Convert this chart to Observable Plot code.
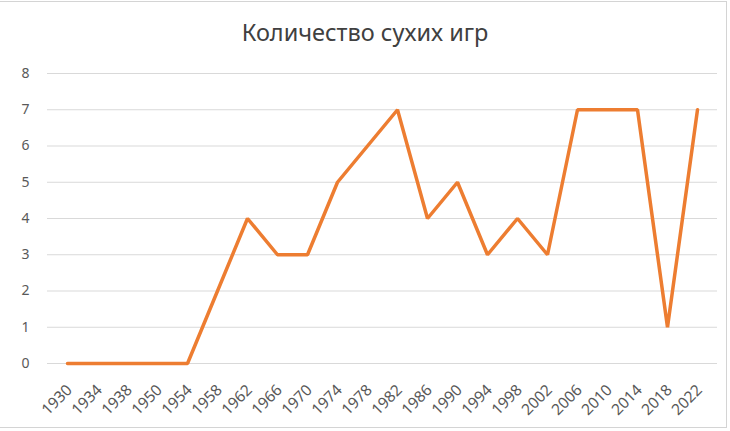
<!DOCTYPE html>
<html>
<head>
<meta charset="utf-8">
<script src="https://cdn.jsdelivr.net/npm/d3@7"></script>
<script src="https://cdn.jsdelivr.net/npm/@observablehq/plot@0.6"></script>
<style>
  html, body { margin: 0; padding: 0; background: #fff; }
  #wrap { position: relative; width: 730px; height: 431px; overflow: hidden; background: #fff; }
  #frame { position: absolute; left: -2px; top: 1px; width: 729px; height: 427px; border: 1px solid #d4d4d4; box-sizing: border-box; pointer-events: none; }
  #title { position: absolute; left: 0; top: 14px; width: 730px; text-align: center; font-family: "Noto Sans", sans-serif; font-size: 23.5px; color: #404040; line-height: 36px; }
  #chart { position: absolute; left: 0; top: 0; }
</style>
</head>
<body>
<div id="wrap">
  <div id="chart"></div>
  <div id="title">Количество сухих игр</div>
  <div id="frame"></div>
</div>
<script>
const years = ["1930","1934","1938","1950","1954","1958","1962","1966","1970","1974","1978","1982","1986","1990","1994","1998","2002","2006","2010","2014","2018","2022"];
const cleanSheets = [0,0,0,0,0,2,4,3,3,5,6,7,4,5,3,4,3,7,7,7,1,7];
const yTicks = [0,1,2,3,4,5,6,7,8];

const data = years.map((y, i) => ({year: y, value: cleanSheets[i]}));

const chart = Plot.plot({
  width: 730,
  height: 431,
  marginTop: 73,
  marginBottom: 68,
  marginLeft: 47,
  marginRight: 13,
  style: {fontFamily: "'Noto Sans', sans-serif", fontSize: "14px", color: "#595959", background: "transparent"},
  x: {type: "point", domain: years, padding: 0, range: [61, 702], label: null},
  y: {domain: [0, 8], label: null},
  marks: [
    Plot.gridY(yTicks, {stroke: "#d9d9d9", strokeOpacity: 1, strokeWidth: 1}),
    Plot.axisY(yTicks, {tickSize: 0, tickPadding: 18, label: null, fill: "#595959", fontSize: 14}),
    Plot.axisX(years, {tickSize: 0, tickRotate: -45, tickPadding: 24, dx: 2, label: null, fill: "#595959", fontSize: 15.5}),
    Plot.line(data, {x: "year", y: "value", stroke: "#ED7D31", strokeWidth: 3.5, strokeLinejoin: "miter", strokeLinecap: "round"})
  ]
});
document.getElementById("chart").appendChild(chart);
</script>
</body>
</html>
